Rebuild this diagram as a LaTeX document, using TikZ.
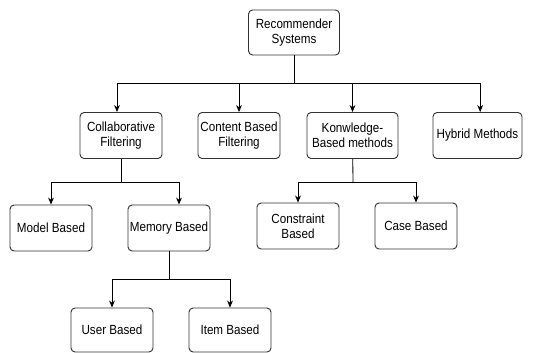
\documentclass[tikz,border=0pt]{standalone}
\usepackage{fontspec}
\setmainfont{Liberation Sans}[FakeStretch=0.88]
\usetikzlibrary{arrows.meta}
\definecolor{edge}{HTML}{333333}
\tikzset{
 box/.style={draw=edge,line width=0.8pt,rounded corners=3.5pt,align=center,
  minimum width=2.46cm,minimum height=1.38cm,inner sep=1pt,font=\fontsize{11.3}{13}\selectfont},
 link/.style={draw=black,line width=0.7pt},
 arr/.style={link,-{Stealth[length=6pt,width=5pt]}}
}
\begin{document}
\begin{tikzpicture}[x=0.03cm,y=-0.03cm]
\useasboundingbox (0,0) rectangle (533,352);
% boxes
\node[box,minimum width=2.73cm,minimum height=1.35cm] (rs) at (294,32.5) {Recommender\\Systems};
\node[box] (cf) at (121,135.5) {Collaborative\\Filtering};
\node[box] (cb) at (239,135.5) {Content Based\\Filtering};
\node[box,minimum width=2.73cm] (kb) at (352.5,135.5) {Konwledge-\\Based methods};
\node[box,minimum width=2.67cm] (hm) at (477.5,135.5) {Hybrid Methods};
\node[box] (mb) at (51,228) {Model Based};
\node[box] (mem) at (169,228) {Memory Based};
\node[box] (con) at (298,226) {Constraint\\Based};
\node[box] (cas) at (416,226) {Case Based};
\node[box,minimum height=1.32cm] (ub) at (112,330) {User Based};
\node[box,minimum height=1.32cm] (ib) at (230,330) {Item Based};
% junctions
\coordinate (j0) at (294,83);
\coordinate (j1) at (121,182);
\coordinate (j2) at (353,182);
\coordinate (j3) at (169,279);
% connectors
\draw[link] (rs) -- (j0);
\draw[arr] (j0) -| ([xshift=-0.12cm]cf.north);
\draw[arr] (j0) -| (cb);
\draw[arr] (j0) -| (kb);
\draw[arr] (j0) -| ([xshift=0.08cm]hm.north);
\draw[link] (cf) -- (j1);
\draw[arr] (j1) -| (mb);
\draw[arr] (j1) -| ([xshift=0.3cm]mem.north);
\draw[link] (kb) -- (j2);
\draw[arr] (j2) -| (con);
\draw[arr] (j2) -| (cas);
\draw[link] (mem) -- (j3);
\draw[arr] (j3) -| (ub);
\draw[arr] (j3) -| (ib);
\end{tikzpicture}
\end{document}
